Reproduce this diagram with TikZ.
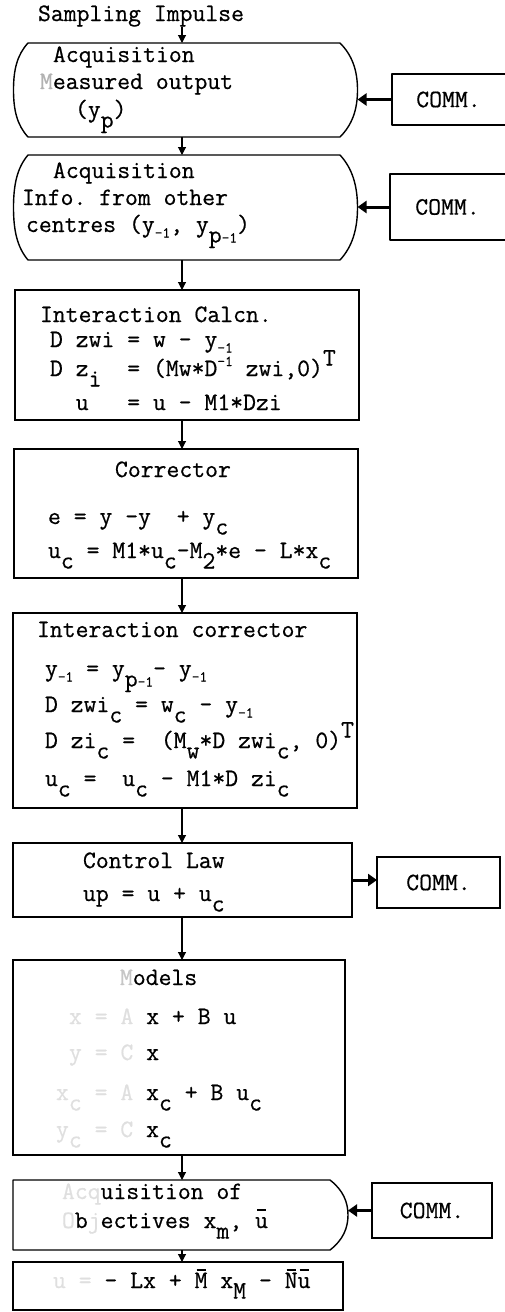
\documentclass[tikz,border=0pt]{standalone}
\usepackage{fontspec}
\setmonofont{Latin Modern Mono}[FakeBold=0.6]
\usetikzlibrary{arrows.meta}
\newcommand{\lw}[1]{\raisebox{-0.42em}{#1}}
\newcommand{\lwm}[1]{\raisebox{-0.22em}{\fontsize{15}{15}\selectfont #1}}
\newcommand{\upr}[1]{\raisebox{0.42em}{#1}}
\newcommand{\uprm}[1]{\raisebox{0.4em}{\fontsize{15}{15}\selectfont #1}}
\newcommand{\fd}[1]{\textcolor{gray!25}{#1}}
\newcommand{\mbar}[1]{\ooalign{#1\cr\hidewidth\raisebox{0.7em}{\rule{0.36em}{0.06em}}\hidewidth\cr}}
\begin{document}
\begin{tikzpicture}[x=1pt,y=-1pt,
 every node/.style={font=\ttfamily\fontsize{25}{30}\selectfont, inner sep=0pt, outer sep=0pt},
 txt/.style={anchor=base west},
 ghost/.style={rectangle},
 plainbox/.style={draw, line width=1.4pt, rectangle},
 boxline/.style={line width=1.4pt, line join=round},
 varr/.style={line width=1.1pt, -{Triangle[length=8pt,width=8pt]}},
 harr/.style={line width=3pt, -{Triangle[length=9pt,width=12pt]}}]
\useasboundingbox (0,0) rectangle (505,1312);
\coordinate (axis) at (182,0);

\node[txt] (title) at (38,21) {Sampling Impulse};

% box 1
\node[ghost, minimum width=344pt, minimum height=94pt] (b1) at (185.5,90) {};
\draw[boxline] (28,43) -- (340,43) .. controls (352,55) and (357.5,70) .. (357.5,90)
  .. controls (357.5,110) and (352,125) .. (340,137) -- (28,137)
  .. controls (17,125) and (13.5,110) .. (13.5,90) .. controls (13.5,70) and (17,55) .. (28,43) -- cycle;
\node[txt] (b1a) at (53,62) {Acquisition};
\node[txt] (b1b) at (40,89) {\textcolor{gray!60}{M}easured output};
\node[txt] (b1c) at (75,117) {(y\lw{p})};

% COMM 1
\node[ghost, minimum width=113pt, minimum height=51pt] (c1) at (448.5,99.5) {COMM.};
\draw[boxline] (c1.north east) -- (c1.north west) -- (c1.south west) -- (c1.south east);

% box 2
\node[ghost, minimum width=344pt, minimum height=105pt] (b2) at (185.5,207.5) {};
\draw[boxline] (28,155) -- (340,155) .. controls (352,168) and (357.5,185) .. (357.5,207.5)
  .. controls (357.5,230) and (352,247) .. (340,260) -- (28,260)
  .. controls (17,247) and (13.5,230) .. (13.5,207.5) .. controls (13.5,185) and (17,168) .. (28,155) -- cycle;
\node[txt] (b2a) at (53,178) {Acquisition};
\node[txt] (b2b) at (22,205) {Info. from other};
\node[txt] (b2c) at (26,232) {centres (y\lwm{-1}, y\lw{p{\fontsize{15}{15}\selectfont -1}})};

% COMM 2
\node[ghost, minimum width=115pt, minimum height=66pt] (c2) at (447.5,207) {COMM.};
\draw[boxline] (c2.north east) -- (c2.north west) -- (c2.south west) -- (c2.south east);

% box 3
\node[plainbox, minimum width=344pt, minimum height=130pt] (b3) at (187,355) {};
\node[txt] (b3a) at (40,322) {Interaction Calcn.};
\node[txt] (b3b) at (50,347) {D zwi = w - y\lwm{-1}};
\node[txt] (b3c) at (50,376) {D z\lw{i}~~= (Mw*D\uprm{-1} zwi,0)\upr{T}};
\node[txt] (b3d) at (50,410) {~~u~~~= u - M1*Dzi};

% box 4
\node[plainbox, minimum width=344pt, minimum height=129pt] (b4) at (186,513.5) {};
\node[txt] (b4a) at (115,477) {Corrector};
\node[txt] (b4b) at (48,524) {e = y -y~~+ y\lw{c}};
\node[txt] (b4c) at (48,558) {u\lw{c} = M1*u\lw{c}-M\lw{2}*e - L*x\lw{c}};

% box 5
\node[plainbox, minimum width=344pt, minimum height=195pt] (b5) at (185,710.5) {};
\node[txt] (b5a) at (37,637) {Interaction corrector};
\node[txt] (b5b) at (45,676) {y\lwm{-1} = y\lw{p{\fontsize{15}{15}\selectfont -1}}- y\lwm{-1}};
\node[txt] (b5c) at (45,712) {D zwi\lw{c} = w\lw{c} - y\lwm{-1}};
\node[txt] (b5d) at (45,748) {D zi\lw{c} =~~(M\lw{w}*D zwi\lw{c}, 0)\upr{T}};
\node[txt] (b5e) at (45,786) {u\lw{c} =~~u\lw{c} - M1*D zi\lw{c}};

% box 6
\node[plainbox, minimum width=339pt, minimum height=74pt] (b6) at (182.5,880) {};
\node[txt] (b6a) at (83,868) {Control Law};
\node[txt] (b6b) at (83,901) {up = u + u\lw{c}};
\node[plainbox, minimum width=123pt, minimum height=51pt] (c3) at (438.5,882.5) {COMM.};

% box 7
\node[plainbox, minimum width=332pt, minimum height=195pt] (b7) at (179,1057.5) {};
\node[txt] (b7a) at (120,985) {\textcolor{gray!45}{M}odels};
\node[txt] (b7b) at (69,1024) {\fd{x~=~A~}x + B u};
\node[txt] (b7c) at (69,1060) {\fd{y~=~C~}x};
\node[txt] (b7d) at (56,1100) {\fd{x\lw{c}~=~A~}x\lw{c} + B u\lw{c}};
\node[txt] (b7e) at (56,1137) {\fd{y\lw{c}~=~C~}x\lw{c}};

% box 8
\node[ghost, minimum width=335pt, minimum height=70pt] (b8) at (180.5,1215) {};
\draw[boxline] (13,1180) -- (330,1180) .. controls (343,1190) and (348,1202) .. (348,1215)
  .. controls (348,1228) and (343,1240) .. (330,1250) -- (13,1250) -- cycle;
\node[txt] (b8a) at (62,1199) {\fd{Acq}uisition of};
\node[txt] (b8b) at (62,1228) {\fd{O}b\fd{j}ectives x\lw{m}, \mbar{u}};
\node[plainbox, minimum width=120pt, minimum height=55pt] (c4) at (432,1210.5) {COMM.};

% box 9
\node[plainbox, minimum width=330pt, minimum height=48pt] (b9) at (178,1286) {};
\node[txt] (b9a) at (53,1288) {\fd{u~=}~- Lx + \mbar{M} x\lw{M} - \mbar{N}\mbar{u}};

% vertical connectors
\draw[varr] (title.south -| axis) -- (b1.north -| axis);
\draw[varr] (b1.south -| axis) -- (b2.north -| axis);
\draw[varr] (b2.south -| axis) -- (b3.north -| axis);
\draw[varr] (b3.south -| axis) -- (b4.north -| axis);
\draw[varr] (b4.south -| axis) -- (b5.north -| axis);
\draw[varr] (b5.south -| axis) -- (b6.north -| axis);
\draw[varr] (b6.south -| axis) -- (b7.north -| axis);
\draw[varr] (b7.south -| axis) -- (b8.north -| axis);
\draw[varr] (b8.south -| axis) -- (b9.north -| axis);

% horizontal connectors
\draw[harr] (c1.west) -- (c1.west -| b1.east);
\draw[harr] (c2.west) -- (c2.west -| b2.east);
\draw[harr] (b6.east) -- (b6.east -| c3.west);
\draw[harr] (c4.west) -- (c4.west -| b8.east);
\end{tikzpicture}
\end{document}
